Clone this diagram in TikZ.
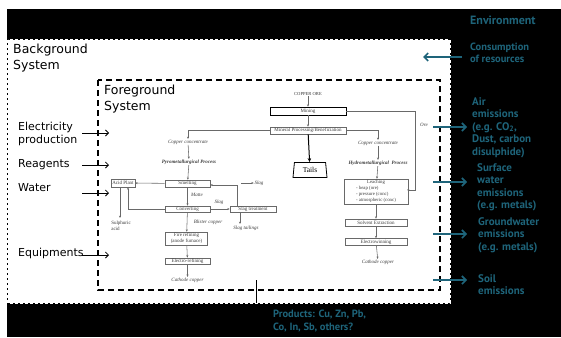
\documentclass[tikz,border=0pt]{standalone}
\usepackage{fontspec}
\setmainfont{Liberation Serif}
\newfontfamily\blkfont{DejaVu Sans}
\newfontfamily\tealfont{PT Sans}
\usetikzlibrary{arrows.meta,shapes.geometric}
\definecolor{teal1}{RGB}{30,100,122}
\definecolor{fgline}{RGB}{105,105,105}
\definecolor{fgtext}{RGB}{60,60,60}
\begin{document}
\begin{tikzpicture}[x=1pt,y=-1pt,
  blabel/.style={font=\blkfont\fontsize{11}{13.5}\selectfont, align=left, anchor=west, inner sep=0},
  tlabel/.style={font=\tealfont\bfseries\fontsize{11}{12.5}\selectfont, text=teal1, align=left, anchor=north west, inner sep=0},
  pbox/.style={draw=fgline, line width=0.55pt, font=\fontsize{5}{6}\selectfont, text=fgtext, inner sep=0, minimum height=7pt},
  ptext/.style={font=\itshape\fontsize{5}{6}\selectfont, text=fgtext, inner sep=0.6pt},
  ptitle/.style={font=\bfseries\itshape\fontsize{5}{6}\selectfont, text=fgtext, inner sep=0.6pt},
  parr/.style={draw=fgline, line width=0.55pt, -{Stealth[length=2.4pt,width=2pt]}},
  tarr/.style={draw=teal1, line width=1.6pt, -{Straight Barb[length=4pt,width=8pt]}},
  karr/.style={draw=black, line width=0.8pt, -{Straight Barb[length=3pt,width=6pt]}}
]
\useasboundingbox (0,0) rectangle (561,337);
\fill[black] (7,9) rectangle (561,337);
% background system
\fill[white] (8,40) rectangle (450,303);
\draw[white, line width=2pt, dash pattern=on 3pt off 2pt] (8,40) rectangle (450,303);
% foreground system
\draw[black, line width=1.3pt, dash pattern=on 6pt off 4pt] (98,80) rectangle (440,290);

% labels
\node[blabel, font=\blkfont\fontsize{12.5}{16.5}\selectfont] (bg) at (13,58) {Background\\System};
\node[blabel, font=\blkfont\fontsize{12.5}{16.5}\selectfont] (fgsys) at (104,99) {Foreground\\System};

\node[blabel] (elec) at (18,134) {Electricity\\production};
\node[blabel] (reag) at (18,165) {Reagents};
\node[blabel] (water) at (18,188) {Water};
\node[blabel] (equip) at (18,253) {Equipments};
\coordinate (e1) at (82,133); \coordinate (e2) at (109,133);
\coordinate (r1) at (82,165); \coordinate (r2) at (109,165);
\coordinate (w1) at (82,193); \coordinate (w2) at (109,193);
\coordinate (q1) at (82,255); \coordinate (q2) at (109,255);
\draw[karr] (e1) -- (e2);
\draw[karr] (r1) -- (r2);
\draw[karr] (w1) -- (w2);
\draw[karr] (q1) -- (q2);

% environment side
\node[tlabel, font=\tealfont\bfseries\fontsize{12}{14}\selectfont, anchor=west] (env) at (470,20) {Environment};
\node[tlabel, font=\tealfont\bfseries\fontsize{10.5}{12}\selectfont] (cons) at (470,43) {Consumption\\of resources};
\node[tlabel] (air) at (472,97) {Air\\emissions\\(e.g. CO\textsubscript{2},\\Dust, carbon\\disulphide)};
\node[tlabel] (surf) at (477,163) {Surface\\water\\emissions\\(e.g. metals)};
\node[tlabel] (gw) at (478,217) {Groundwater\\emissions\\(e.g. metals)};
\node[tlabel] (soil) at (478,274) {Soil\\emissions};
\node[tlabel, font=\tealfont\bfseries\fontsize{10.5}{12.5}\selectfont] (prod) at (273,310) {Products: Cu, Zn, Pb,\\Co, In, Sb, others?};
\coordinate (c1) at (462,57); \coordinate (c2) at (423,57);
\coordinate (a1) at (433,127); \coordinate (a2) at (467,127);
\coordinate (s1) at (433,182); \coordinate (s2) at (467,182);
\coordinate (g1) at (433,234); \coordinate (g2) at (467,234);
\coordinate (o1) at (433,280); \coordinate (o2) at (467,280);
\draw[tarr] (c1) -- (c2);
\draw[tarr] (a1) -- (a2);
\draw[tarr] (s1) -- (s2);
\draw[tarr] (g1) -- (g2);
\draw[tarr] (o1) -- (o2);
\coordinate (p1) at (256,280); \coordinate (p2) at (256,303);
\draw[black, line width=1pt] (p1) -- (p2);

% ---------------- flowchart ----------------
\node[ptext, font=\fontsize{4.6}{5}\selectfont] (ore) at (308,94) {COPPER ORE};
\node[pbox, draw=black, minimum width=76pt, minimum height=8pt] (mining) at (308,111) {Mining};
\node[pbox, minimum width=76pt] (minproc) at (308,130.5) {Mineral Processing/Beneficiation};
\node[trapezium, draw=black, line width=0.8pt, trapezium angle=75, trapezium stretches body, minimum width=34pt, minimum height=15pt, inner sep=0, font=\fontsize{7.5}{8}\selectfont] (tails) at (310,170) {Tails};
\draw[parr] (ore) -- (mining);
\draw[parr] (mining) -- (minproc);
\draw[draw=black, line width=1pt, -{Stealth[length=4pt,width=3.5pt]}] (minproc) -- (tails);

% hydrometallurgical branch
\node[ptext] (hcc) at (378,143) {Copper concentrate};
\node[ptitle] (hydro) at (378,163) {Hydrometallurgical\ \ Process};
\node[pbox, minimum width=64pt, minimum height=25pt, font=\fontsize{4.8}{6}\selectfont] (leach) at (376,191.5) {\begin{tabular}{@{}l@{}}\multicolumn{1}{@{}c@{}}{Leaching}\\- heap (ore)\\- pressure (conc)\\- atmospheric (conc)\end{tabular}};
\node[pbox, minimum width=62pt] (solv) at (376,222.5) {Solvent Extraction};
\node[pbox, minimum width=62pt] (ew) at (376,242) {Electrowinning};
\node[ptext] (cath2) at (378,262) {Cathode copper};
\node[ptext] (orelab) at (424,125) {Ore};
\draw[parr] (minproc.east) -| (hcc.north);
\draw[parr] (hcc) -- (hydro);
\draw[parr] (hydro) -- (leach);
\draw[parr] (leach) -- (solv);
\draw[parr] (solv) -- (ew);
\draw[parr] (ew) -- (cath2);
\draw[parr] (mining.east) -- (415,111) |- (leach.east |- 0,190) -- (leach.east);

% pyrometallurgical branch
\node[ptext] (pcc) at (188,142) {Copper concentrate};
\node[ptitle] (pyro) at (189,162) {Pyrometallurgical Process};
\node[pbox, minimum width=45pt] (smelt) at (187.5,183.5) {Smelting};
\node[pbox, minimum width=24pt, minimum height=8pt] (acid) at (123,183) {Acid Plant};
\node[ptext] (slag1) at (259,183) {Slag};
\node[ptext] (matte) at (197,195) {Matte};
\node[pbox, minimum width=45pt, minimum height=6pt] (conv) at (187.5,209) {Converting};
\node[ptext] (slag2) at (219,202) {Slag};
\node[pbox, minimum width=46pt, minimum height=6pt] (slagt) at (253,209) {Slag treatment};
\node[ptext] (slagtail) at (246,228) {Slag tailings};
\node[ptext, align=left, font=\fontsize{5}{5.5}\selectfont] (sulph) at (121,226) {Sulphuric\\acid};
\node[ptext] (blister) at (208,222) {Blister copper};
\node[pbox, minimum width=42pt, minimum height=13pt, align=center, font=\fontsize{5}{5.8}\selectfont] (fire) at (186.5,238.5) {Fire refining\\(anode furnace)};
\node[pbox, minimum width=45pt, minimum height=6pt] (eref) at (187.5,261) {Electro-refining};
\node[ptext] (cath1) at (187.5,280) {Cathode copper};

\draw[parr] (minproc.west) -| (pcc.north);
\draw[parr] (pcc) -- (pyro);
\draw[parr] (pyro) -- (smelt);
\draw[parr] (smelt) -- (acid);
\draw[parr] (241,183) -- (slag1);
\draw[parr] (smelt) -- (conv);
\draw[parr] (conv) -- (slagt);
\draw[parr] (slagt.north -| 237,0) |- (smelt.east |- 0,185);
\draw[parr] (conv.west) -| (acid.south -| 128,0);
\draw[parr] (acid.south -| 120,0) -- (120,218);
\draw[parr] (slagt.south -| 240,0) -- (240,224);
\draw[parr] (conv) -- (fire);
\draw[parr] (fire) -- (eref);
\draw[parr] (eref) -- (cath1);
\end{tikzpicture}
\end{document}
